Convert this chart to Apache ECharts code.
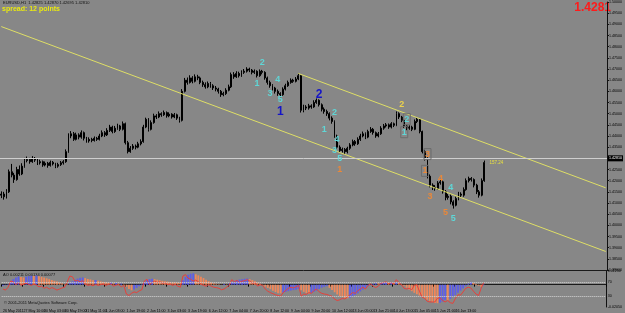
<!DOCTYPE html>
<html><head><meta charset="utf-8">
<script src="https://cdn.jsdelivr.net/npm/echarts@6/dist/echarts.min.js"></script>
<style>html,body{margin:0;padding:0;background:#878787;}#c{width:625px;height:313px;}</style>
</head><body><div id="c"></div>
<script>
// ---- data (EURUSD, 2-hour bars, 26 May 2011 18:00 -> 17 Jun 2011 11:00) ----
const firstOpen = 1.4135;
const closes = [
1.4140,1.4128,1.4150,1.4240,1.4225,1.4205,1.4250,1.4230,1.4265,1.4290,
1.4295,1.4285,1.4300,1.4292,1.4280,1.4285,1.4270,1.4278,1.4268,1.4282,
1.4275,1.4265,1.4272,1.4280,1.4285,1.4330,1.4400,1.4410,1.4385,1.4405,
1.4395,1.4415,1.4390,1.4378,1.4385,1.4380,1.4390,1.4385,1.4400,1.4415,
1.4405,1.4425,1.4440,1.4420,1.4435,1.4445,1.4430,1.4455,1.4370,1.4330,
1.4345,1.4355,1.4350,1.4365,1.4375,1.4440,1.4475,1.4430,1.4460,1.4490,
1.4485,1.4500,1.4495,1.4505,1.4490,1.4498,1.4485,1.4495,1.4480,1.4470,
1.4600,1.4650,1.4640,1.4660,1.4645,1.4665,1.4660,1.4640,1.4630,1.4620,
1.4635,1.4625,1.4615,1.4610,1.4600,1.4585,1.4590,1.4605,1.4620,1.4675,
1.4665,1.4680,1.4670,1.4685,1.4690,1.4700,1.4695,1.4685,1.4690,1.4670,
1.4690,1.4685,1.4660,1.4640,1.4625,1.4615,1.4600,1.4590,1.4585,1.4610,
1.4625,1.4640,1.4650,1.4645,1.4655,1.4670,1.4515,1.4530,1.4525,1.4535,
1.4530,1.4550,1.4560,1.4540,1.4520,1.4510,1.4500,1.4480,1.4465,1.4400,
1.4350,1.4335,1.4340,1.4330,1.4345,1.4360,1.4375,1.4365,1.4385,1.4400,
1.4410,1.4395,1.4420,1.4430,1.4415,1.4400,1.4410,1.4435,1.4445,1.4450,
1.4440,1.4455,1.4448,1.4500,1.4485,1.4470,1.4445,1.4435,1.4440,1.4430,
1.4465,1.4475,1.4420,1.4330,1.4300,1.4220,1.4180,1.4170,1.4165,1.4190,
1.4195,1.4150,1.4125,1.4130,1.4105,1.4090,1.4120,1.4140,1.4135,1.4160,
1.4200,1.4210,1.4205,1.4180,1.4150,1.4135,1.4200,1.4281];
const highs = [
1.4152,1.4150,1.4162,1.4250,1.4275,1.4235,1.4262,1.4268,1.4278,1.4302,
1.4308,1.4302,1.4310,1.4306,1.4298,1.4294,1.4290,1.4286,1.4284,1.4290,
1.4288,1.4280,1.4280,1.4288,1.4292,1.4340,1.4412,1.4422,1.4418,1.4415,
1.4412,1.4425,1.4420,1.4396,1.4394,1.4392,1.4398,1.4396,1.4410,1.4425,
1.4422,1.4435,1.4450,1.4446,1.4445,1.4455,1.4450,1.4465,1.4460,1.4378,
1.4355,1.4364,1.4362,1.4374,1.4385,1.4450,1.4482,1.4480,1.4470,1.4500,
1.4498,1.4510,1.4506,1.4514,1.4510,1.4506,1.4502,1.4503,1.4500,1.4486,
1.4610,1.4660,1.4662,1.4672,1.4668,1.4676,1.4674,1.4666,1.4648,1.4640,
1.4644,1.4642,1.4632,1.4624,1.4616,1.4606,1.4598,1.4614,1.4630,1.4684,
1.4686,1.4690,1.4688,1.4694,1.4700,1.4708,1.4706,1.4700,1.4698,1.4694,
1.4698,1.4696,1.4690,1.4666,1.4648,1.4632,1.4620,1.4608,1.4596,1.4618,
1.4634,1.4648,1.4658,1.4656,1.4664,1.4680,1.4674,1.4540,1.4538,1.4544,
1.4542,1.4560,1.4568,1.4564,1.4546,1.4528,1.4518,1.4506,1.4488,1.4470,
1.4406,1.4358,1.4348,1.4346,1.4352,1.4368,1.4384,1.4382,1.4394,1.4410,
1.4420,1.4416,1.4428,1.4440,1.4436,1.4420,1.4418,1.4444,1.4454,1.4458,
1.4456,1.4462,1.4460,1.4510,1.4506,1.4490,1.4474,1.4450,1.4448,1.4446,
1.4474,1.4484,1.4480,1.4424,1.4338,1.4305,1.4228,1.4188,1.4180,1.4198,
1.4204,1.4200,1.4158,1.4140,1.4138,1.4112,1.4128,1.4150,1.4148,1.4170,
1.4210,1.4218,1.4216,1.4210,1.4186,1.4158,1.4210,1.4290];
const lows = [
1.4122,1.4115,1.4120,1.4145,1.4215,1.4190,1.4200,1.4222,1.4225,1.4258,
1.4282,1.4276,1.4280,1.4284,1.4270,1.4272,1.4262,1.4264,1.4258,1.4263,
1.4268,1.4256,1.4258,1.4266,1.4272,1.4280,1.4325,1.4390,1.4378,1.4380,
1.4385,1.4388,1.4380,1.4370,1.4370,1.4372,1.4375,1.4378,1.4380,1.4395,
1.4396,1.4400,1.4418,1.4412,1.4414,1.4428,1.4422,1.4425,1.4362,1.4322,
1.4325,1.4338,1.4340,1.4345,1.4358,1.4370,1.4435,1.4420,1.4425,1.4455,
1.4476,1.4480,1.4486,1.4490,1.4482,1.4484,1.4478,1.4480,1.4472,1.4460,
1.4465,1.4595,1.4630,1.4635,1.4636,1.4640,1.4650,1.4632,1.4620,1.4612,
1.4614,1.4616,1.4606,1.4600,1.4590,1.4575,1.4578,1.4584,1.4600,1.4615,
1.4656,1.4660,1.4662,1.4665,1.4678,1.4684,1.4686,1.4676,1.4678,1.4662,
1.4665,1.4676,1.4652,1.4630,1.4616,1.4604,1.4590,1.4580,1.4574,1.4580,
1.4604,1.4620,1.4634,1.4638,1.4640,1.4650,1.4505,1.4506,1.4516,1.4518,
1.4522,1.4526,1.4544,1.4532,1.4510,1.4500,1.4490,1.4470,1.4455,1.4392,
1.4342,1.4326,1.4326,1.4318,1.4322,1.4338,1.4354,1.4356,1.4360,1.4378,
1.4394,1.4386,1.4390,1.4414,1.4406,1.4392,1.4394,1.4405,1.4428,1.4438,
1.4432,1.4434,1.4440,1.4444,1.4476,1.4462,1.4436,1.4426,1.4428,1.4422,
1.4426,1.4458,1.4412,1.4322,1.4290,1.4210,1.4170,1.4158,1.4155,1.4160,
1.4182,1.4142,1.4112,1.4115,1.4094,1.4075,1.4085,1.4112,1.4125,1.4128,
1.4155,1.4192,1.4196,1.4170,1.4140,1.4124,1.4130,1.4195];
const aoValues = [
-0.0010,-0.0005,0.0005,0.0030,0.0050,0.0065,0.0075,0.0070,0.0066,0.0072,
0.0078,0.0082,0.0080,0.0084,0.0078,0.0072,0.0065,0.0058,0.0050,0.0042,
0.0035,0.0028,0.0020,0.0012,0.0006,0.0004,0.0015,0.0030,0.0045,0.0055,
0.0062,0.0066,0.0060,0.0052,0.0048,0.0040,0.0043,0.0036,0.0030,0.0025,
0.0022,0.0018,0.0020,0.0012,0.0015,0.0008,0.0010,0.0004,-0.0020,-0.0040,
-0.0052,-0.0045,-0.0030,-0.0015,0.0005,0.0025,0.0040,0.0050,0.0055,0.0050,
0.0045,0.0040,0.0035,0.0030,0.0028,0.0025,0.0022,0.0020,0.0018,0.0015,
0.0040,0.0070,0.0090,0.0100,0.0104,0.0095,0.0085,0.0072,0.0060,0.0045,
0.0032,0.0020,0.0012,0.0008,0.0004,0.0002,0.0006,0.0004,0.0010,0.0022,
0.0032,0.0040,0.0046,0.0050,0.0054,0.0056,0.0050,0.0042,0.0030,0.0018,
0.0008,-0.0005,-0.0018,-0.0030,-0.0042,-0.0055,-0.0068,-0.0078,-0.0080,-0.0074,
-0.0066,-0.0060,-0.0054,-0.0050,-0.0046,-0.0040,-0.0052,-0.0066,-0.0078,-0.0082,
-0.0075,-0.0066,-0.0055,-0.0040,-0.0028,-0.0020,-0.0012,-0.0030,-0.0050,-0.0070,
-0.0090,-0.0104,-0.0115,-0.0122,-0.0125,-0.0120,-0.0110,-0.0095,-0.0080,-0.0062,
-0.0045,-0.0030,-0.0015,-0.0002,0.0008,0.0014,0.0012,0.0018,0.0022,0.0025,
0.0020,0.0024,0.0018,0.0022,0.0015,0.0005,-0.0010,-0.0028,-0.0045,-0.0060,
-0.0075,-0.0088,-0.0100,-0.0112,-0.0125,-0.0138,-0.0150,-0.0160,-0.0168,-0.0170,
-0.0165,-0.0155,-0.0140,-0.0145,-0.0130,-0.0112,-0.0095,-0.0075,-0.0055,-0.0035,
-0.0015,0.0010,0.0025,0.0015,0.0005,-0.0010,-0.0020,-0.0005];
const rsiValues = [
50,47,55,72,70,62,68,60,64,66,
63,60,64,61,56,58,52,55,50,54,
51,47,50,53,55,70,86,84,72,74,
70,73,64,60,62,59,63,60,62,64,
60,63,64,58,61,62,56,60,36,32,
38,42,40,45,48,72,77,62,68,72,
68,70,66,68,62,64,60,63,58,55,
86,90,80,77,72,75,70,64,60,58,
62,58,55,54,52,48,50,55,60,76,
70,74,68,72,73,76,72,66,68,58,
62,60,50,44,40,37,34,32,30,40,
46,52,55,53,56,60,30,36,35,40,
38,46,50,42,38,36,35,32,30,22,
18,20,24,22,28,34,40,38,45,50,
55,50,60,64,58,54,58,66,68,70,
64,68,64,76,68,62,52,50,52,48,
60,62,44,28,24,16,14,14,14,24,
26,18,14,18,12,10,24,34,33,42,
52,55,53,44,36,32,52,68];
const tickLabels = ['26 May 2011','27 May 10:00','30 May 03:00','30 May 19:00','31 May 11:00','1 Jun 03:00','1 Jun 19:00','2 Jun 11:00','3 Jun 03:00','3 Jun 19:00','6 Jun 12:00','7 Jun 04:00','7 Jun 20:00','8 Jun 12:00','9 Jun 04:00','9 Jun 20:00','10 Jun 12:00','13 Jun 05:00','13 Jun 21:00','14 Jun 13:00','15 Jun 05:00','15 Jun 21:00','16 Jun 13:00','17 Jun 05:00'];
const barsPerTick = 8;
const slotCount = 235; // chart slots incl. right shift
const lastPrice = 1.4281;
const channelLower = [[0, 1.4890], [234, 1.3883]];
const channelUpper = [[115, 1.4680], [234, 1.4168]];
// wave labels: [text, bar index, price]
const waveCyan = [['2',101,1.4728],['1',99,1.4635],['4',107,1.4652],['3',104,1.4590],['5',108,1.4564],
  ['2',129,1.4506],['1',125,1.4430],['4',130,1.4386],['3',129,1.4333],['5',131,1.4297],
  ['4',174,1.4168],['5',175,1.4031]];
const waveCyanBoxed = [['2',157,1.4475],['1',156,1.4417]];
const waveBlue = [['1',108,1.4510],['2',123,1.4586]];
const waveOrange = [['1',131,1.4248],['4',170,1.4208],['3',166,1.4129],['5',172,1.4058]];
const waveOrangeBoxed = [['3',165,1.4319],['1',164,1.4244]];
const waveYellow = [['2',155,1.4541]];
const priceNote = ['157.24', 189, 1.4281];

// ---- build ----
const cats = Array.from({length: slotCount}, (_, i) => String(i));
const opens = [firstOpen].concat(closes.slice(0, -1));
const ohlc = closes.map((c, i) => [opens[i], c, lows[i], highs[i]]);
const aoData = aoValues.map((v, i) => ({
  value: v,
  itemStyle: {color: (i === 0 || v > aoValues[i - 1]) ? '#5d5de8' : '#f0875a'}
}));
const FONT = 'Liberation Sans, Arial, sans-serif';
const showTick = i => i % barsPerTick === 0 && i / barsPerTick < tickLabels.length;
function waveSeries(list, color, size, bold, boxed) {
  return {
    type: 'custom', xAxisIndex: 0, yAxisIndex: 0, silent: true, z: 6,
    data: list.map(w => [w[1], w[2]]),
    renderItem: (params, api) => {
      const p = api.coord([api.value(0), api.value(1)]);
      const txt = {type: 'text', x: p[0], y: p[1],
        style: {text: list[params.dataIndex][0], fill: color, align: 'center', verticalAlign: 'middle',
          font: (bold ? 'bold ' : '') + size + 'px ' + FONT}};
      if (!boxed) return txt;
      return {type: 'group', children: [
        {type: 'rect', shape: {x: p[0] - 3.5, y: p[1] - 5.5, width: 7, height: 11},
         style: {fill: 'rgba(0,0,0,0)', stroke: '#6c6c6c', lineWidth: 1}},
        txt]};
    }
  };
}

const chart = echarts.init(document.getElementById('c'), null, {renderer: 'canvas'});
chart.setOption({
  animation: false,
  backgroundColor: '#878787',
  textStyle: {fontFamily: FONT},
  grid: [
    {left: 0, right: 13, top: 0, height: 270},
    {left: 0, right: 13, top: 271, height: 36}
  ],
  xAxis: [
    {type: 'category', gridIndex: 0, data: cats, boundaryGap: true,
     axisLine: {show: true, lineStyle: {color: '#1a1a1a', width: 1}},
     axisTick: {show: false}, axisLabel: {show: false}, splitLine: {show: false}},
    {type: 'category', gridIndex: 1, data: cats, boundaryGap: true,
     axisLine: {show: true, lineStyle: {color: '#1a1a1a', width: 1}},
     axisTick: {show: true, length: 2, interval: showTick, lineStyle: {color: '#000'}},
     axisLabel: {show: true, interval: showTick, showMinLabel: true, hideOverlap: false,
       formatter: (v, i) => tickLabels[Number(v) / barsPerTick] || '', fontSize: 3.6, color: '#000', align: 'left', margin: 2},
     splitLine: {show: false}}
  ],
  yAxis: [
    {type: 'value', gridIndex: 0, position: 'right', min: 1.38, max: 1.50, interval: 0.005,
     axisLine: {show: true, lineStyle: {color: '#111'}}, axisTick: {show: true, length: 2, lineStyle: {color: '#111'}},
     axisLabel: {fontSize: 3.6, color: '#000', margin: 2, formatter: v => v.toFixed(5)}, splitLine: {show: false}},
    {type: 'value', gridIndex: 1, position: 'right', min: -0.0205, max: 0.0125, interval: 0.0005,
     axisLine: {show: true, lineStyle: {color: '#111'}}, axisTick: {show: false},
     axisLabel: {fontSize: 3.6, color: '#000', margin: 2, showMinLabel: true, showMaxLabel: true,
       formatter: v => Math.abs(v - 0.0125) < 1e-7 ? '0.01250' : (Math.abs(v + 0.0205) < 1e-7 ? '-0.02050' : '')},
     splitLine: {show: false}},
    {type: 'value', gridIndex: 1, position: 'right', min: 0, max: 100, interval: 10,
     axisLine: {show: false}, axisTick: {show: false},
     axisLabel: {fontSize: 3.6, color: '#000', margin: 2, formatter: v => (v === 70 || v === 30) ? String(v) : ''},
     splitLine: {show: false}}
  ],
  graphic: [
    {type: 'text', left: 3, top: 1, style: {text: 'EURUSD,H1  1.42825 1.42870 1.42695 1.42810', fill: '#111', font: '4px ' + FONT}},
    {type: 'text', left: 2, top: 6, style: {text: 'spread: 12 points', fill: '#eaea10', font: 'bold 7px ' + FONT}},
    {type: 'text', right: 14, top: 2, style: {text: '1.4281', fill: '#ff1a1a', font: 'bold 12px ' + FONT}},
    {type: 'text', left: 3, top: 273, style: {text: 'AO 0.00211 0.00134 0.00077', fill: '#111', font: '4px ' + FONT}},
    {type: 'text', left: 4, top: 301, style: {text: '\u00a9 2001-2011 MetaQuotes Software Corp.', fill: '#111', font: '4px ' + FONT}}
  ],
  series: [
    {type: 'candlestick', xAxisIndex: 0, yAxisIndex: 0, data: ohlc, barWidth: 1.4,
     itemStyle: {color: '#000', color0: '#000', borderColor: '#000', borderColor0: '#000', borderWidth: 1},
     markLine: {silent: true, symbol: ['none', 'none'],
       lineStyle: {color: '#cfcfcf', width: 1, type: 'solid'},
       label: {show: true, position: 'end', distance: 1, formatter: '1.42810', color: '#fff', backgroundColor: '#000',
         fontSize: 3.6, padding: [1, 1]},
       data: [{yAxis: lastPrice}]}},
    {type: 'line', xAxisIndex: 0, yAxisIndex: 0, data: channelLower, showSymbol: false, silent: true,
     lineStyle: {color: '#dede66', width: 1}},
    {type: 'line', xAxisIndex: 0, yAxisIndex: 0, silent: true,
     data: [{value: channelUpper[0], symbol: 'circle', symbolSize: 3}, {value: channelUpper[1], symbol: 'none'}],
     itemStyle: {color: '#f4f4a0'}, lineStyle: {color: '#dede66', width: 1}},
    waveSeries(waveCyan, '#5fd6d6', 9, true, false),
    waveSeries(waveCyanBoxed, '#5fd6d6', 9, true, true),
    waveSeries(waveBlue, '#1414c8', 12, true, false),
    waveSeries(waveOrange, '#e8883a', 9, true, false),
    waveSeries(waveOrangeBoxed, '#e8883a', 9, true, true),
    waveSeries(waveYellow, '#ecd24c', 9, true, false),
    {type: 'custom', xAxisIndex: 0, yAxisIndex: 0, silent: true, z: 6,
     data: [[priceNote[1], priceNote[2]]],
     renderItem: (params, api) => {
       const p = api.coord([api.value(0), api.value(1)]);
       return {type: 'text', x: p[0], y: p[1], style: {text: priceNote[0], fill: '#e8e040',
         align: 'left', verticalAlign: 'middle', font: '4.5px ' + FONT}};
     }},
    {type: 'bar', xAxisIndex: 1, yAxisIndex: 1, data: aoData, barWidth: 1.8, silent: true},
    {type: 'line', xAxisIndex: 1, yAxisIndex: 2, data: rsiValues, showSymbol: false, silent: true,
     lineStyle: {color: '#e8403a', width: 1},
     markLine: {silent: true, symbol: ['none', 'none'], label: {show: false},
       lineStyle: {color: '#d8d8d8', width: 1, type: 'dotted'},
       data: [{yAxis: 70}, {yAxis: 30}]}}
  ]
});
</script>
</body></html>
